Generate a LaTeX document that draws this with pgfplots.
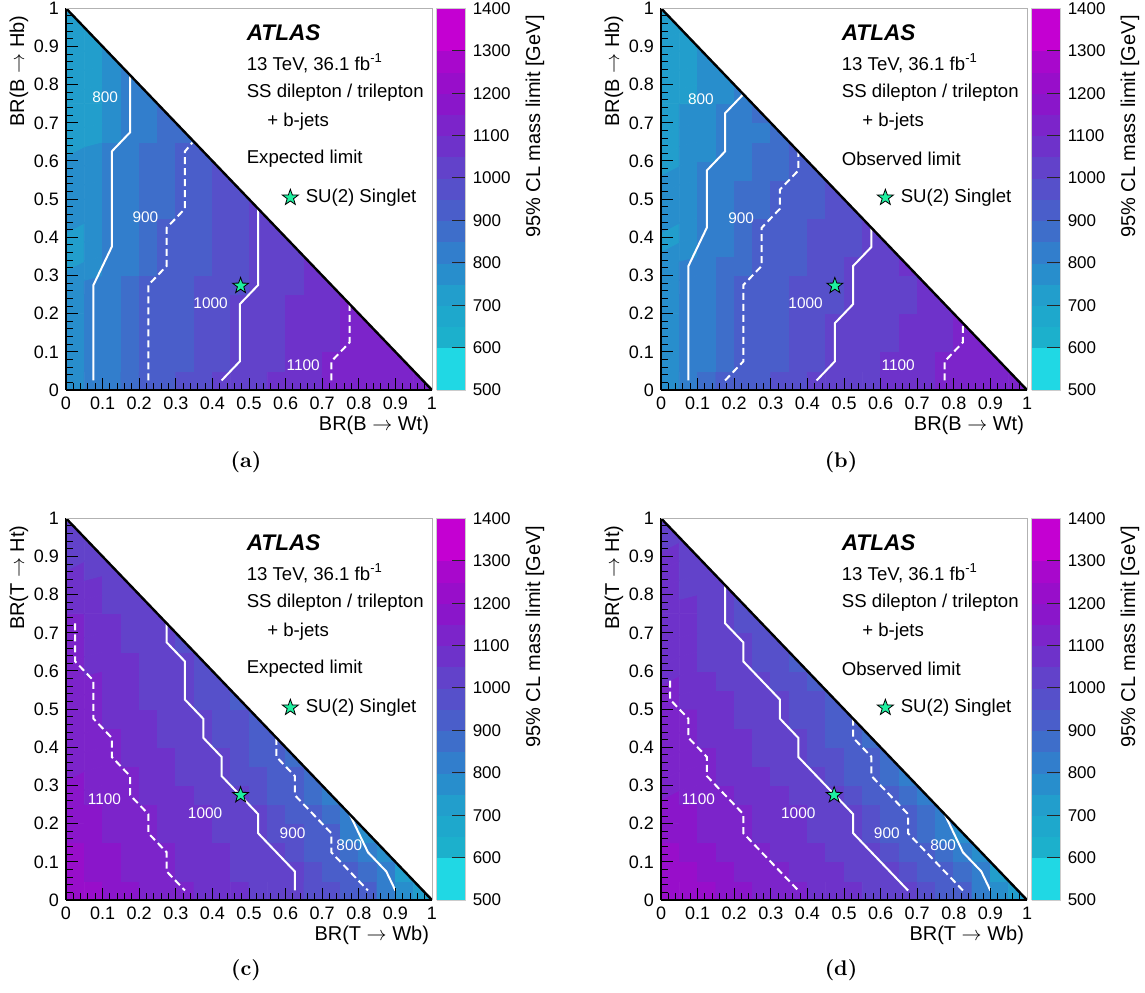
\documentclass[border=0pt]{standalone}
\usepackage{fontspec}
\usepackage{pgfplots}
\usepackage{pgfplotstable}
\pgfplotsset{compat=1.18}
\usetikzlibrary{plotmarks}
\newfontfamily\lib{Liberation Sans}
\definecolor{sgreen}{RGB}{30,240,160}

\pgfdeclareplotmark{fstar}{%
 \pgfpathmoveto{\pgfpointpolar{90}{\pgfplotmarksize}}%
 \pgfpathlineto{\pgfpointpolar{126}{0.4\pgfplotmarksize}}%
 \pgfpathlineto{\pgfpointpolar{162}{\pgfplotmarksize}}%
 \pgfpathlineto{\pgfpointpolar{198}{0.4\pgfplotmarksize}}%
 \pgfpathlineto{\pgfpointpolar{234}{\pgfplotmarksize}}%
 \pgfpathlineto{\pgfpointpolar{270}{0.4\pgfplotmarksize}}%
 \pgfpathlineto{\pgfpointpolar{306}{\pgfplotmarksize}}%
 \pgfpathlineto{\pgfpointpolar{342}{0.4\pgfplotmarksize}}%
 \pgfpathlineto{\pgfpointpolar{18}{\pgfplotmarksize}}%
 \pgfpathlineto{\pgfpointpolar{54}{0.4\pgfplotmarksize}}%
 \pgfpathclose\pgfusepathqfillstroke}

\pgfplotsset{colormap={atl}{
 rgb255(0pt)=(32,216,228)
 rgb255(99pt)=(28,176,204)
 rgb255(149pt)=(30,168,204)
 rgb255(199pt)=(34,158,204)
 rgb255(249pt)=(40,142,204)
 rgb255(299pt)=(50,126,204)
 rgb255(349pt)=(62,110,202)
 rgb255(399pt)=(74,94,202)
 rgb255(449pt)=(86,80,202)
 rgb255(499pt)=(98,66,202)
 rgb255(549pt)=(110,50,202)
 rgb255(599pt)=(124,36,202)
 rgb255(649pt)=(138,22,202)
 rgb255(699pt)=(152,14,202)
 rgb255(749pt)=(168,8,204)
 rgb255(799pt)=(196,0,210)
 rgb255(900pt)=(196,0,210)
}}

% panel (a): expected, B
\pgfplotstableread[row sep=\\]{z\\
767\\ 800\\ 833\\ 867\\ 900\\ 925\\ 950\\ 975\\ 1000\\ 1017\\ 1033\\ 1050\\ 1067\\ 1083\\ 1100\\ 1110\\ 1120\\ 1130\\ 1140\\ 1148\\
767\\ 800\\ 833\\ 867\\ 900\\ 920\\ 940\\ 960\\ 980\\ 1000\\ 1020\\ 1040\\ 1060\\ 1080\\ 1100\\ 1110\\ 1120\\ 1130\\ 1140\\ 1140\\
767\\ 800\\ 833\\ 867\\ 900\\ 920\\ 940\\ 960\\ 980\\ 1000\\ 1017\\ 1033\\ 1050\\ 1067\\ 1083\\ 1100\\ 1110\\ 1120\\ 1120\\ 1120\\
767\\ 800\\ 833\\ 867\\ 900\\ 920\\ 940\\ 960\\ 980\\ 1000\\ 1017\\ 1033\\ 1050\\ 1067\\ 1083\\ 1100\\ 1110\\ 1120\\ 1120\\ 1120\\
767\\ 800\\ 833\\ 867\\ 900\\ 920\\ 940\\ 960\\ 980\\ 1000\\ 1017\\ 1033\\ 1050\\ 1067\\ 1083\\ 1100\\ 1110\\ 1120\\ 1120\\ 1120\\
767\\ 800\\ 833\\ 867\\ 900\\ 917\\ 933\\ 950\\ 967\\ 983\\ 1000\\ 1017\\ 1033\\ 1050\\ 1067\\ 1067\\ 1067\\ 1067\\ 1067\\ 1067\\
757\\ 786\\ 814\\ 843\\ 871\\ 900\\ 920\\ 940\\ 960\\ 980\\ 1000\\ 1017\\ 1033\\ 1050\\ 1050\\ 1050\\ 1050\\ 1050\\ 1050\\ 1050\\
733\\ 767\\ 800\\ 833\\ 867\\ 900\\ 920\\ 940\\ 960\\ 980\\ 1000\\ 1017\\ 1033\\ 1033\\ 1033\\ 1033\\ 1033\\ 1033\\ 1033\\ 1033\\
733\\ 767\\ 800\\ 833\\ 867\\ 900\\ 920\\ 940\\ 960\\ 980\\ 1000\\ 1017\\ 1033\\ 1033\\ 1033\\ 1033\\ 1033\\ 1033\\ 1033\\ 1033\\
750\\ 775\\ 800\\ 825\\ 850\\ 875\\ 900\\ 925\\ 950\\ 975\\ 1000\\ 1000\\ 1000\\ 1000\\ 1000\\ 1000\\ 1000\\ 1000\\ 1000\\ 1000\\
750\\ 775\\ 800\\ 825\\ 850\\ 875\\ 900\\ 925\\ 950\\ 975\\ 975\\ 975\\ 975\\ 975\\ 975\\ 975\\ 975\\ 975\\ 975\\ 975\\
750\\ 775\\ 800\\ 825\\ 850\\ 875\\ 900\\ 925\\ 950\\ 975\\ 975\\ 975\\ 975\\ 975\\ 975\\ 975\\ 975\\ 975\\ 975\\ 975\\
750\\ 775\\ 800\\ 825\\ 850\\ 875\\ 900\\ 925\\ 950\\ 975\\ 975\\ 975\\ 975\\ 975\\ 975\\ 975\\ 975\\ 975\\ 975\\ 975\\
714\\ 743\\ 771\\ 800\\ 829\\ 857\\ 886\\ 886\\ 886\\ 886\\ 886\\ 886\\ 886\\ 886\\ 886\\ 886\\ 886\\ 886\\ 886\\ 886\\
710\\ 740\\ 770\\ 800\\ 830\\ 860\\ 860\\ 860\\ 860\\ 860\\ 860\\ 860\\ 860\\ 860\\ 860\\ 860\\ 860\\ 860\\ 860\\ 860\\
710\\ 740\\ 770\\ 800\\ 830\\ 830\\ 830\\ 830\\ 830\\ 830\\ 830\\ 830\\ 830\\ 830\\ 830\\ 830\\ 830\\ 830\\ 830\\ 830\\
710\\ 740\\ 770\\ 800\\ 800\\ 800\\ 800\\ 800\\ 800\\ 800\\ 800\\ 800\\ 800\\ 800\\ 800\\ 800\\ 800\\ 800\\ 800\\ 800\\
710\\ 740\\ 770\\ 770\\ 770\\ 770\\ 770\\ 770\\ 770\\ 770\\ 770\\ 770\\ 770\\ 770\\ 770\\ 770\\ 770\\ 770\\ 770\\ 770\\
710\\ 740\\ 740\\ 740\\ 740\\ 740\\ 740\\ 740\\ 740\\ 740\\ 740\\ 740\\ 740\\ 740\\ 740\\ 740\\ 740\\ 740\\ 740\\ 740\\
710\\ 710\\ 710\\ 710\\ 710\\ 710\\ 710\\ 710\\ 710\\ 710\\ 710\\ 710\\ 710\\ 710\\ 710\\ 710\\ 710\\ 710\\ 710\\ 710\\
}\tabA

% panel (b): observed, B
\pgfplotstableread[row sep=\\]{z\\
750\\ 800\\ 850\\ 900\\ 920\\ 940\\ 960\\ 980\\ 1000\\ 1014\\ 1029\\ 1043\\ 1057\\ 1071\\ 1086\\ 1100\\ 1110\\ 1120\\ 1130\\ 1140\\
767\\ 800\\ 833\\ 867\\ 900\\ 920\\ 940\\ 960\\ 980\\ 1000\\ 1017\\ 1033\\ 1050\\ 1067\\ 1083\\ 1100\\ 1110\\ 1120\\ 1130\\ 1130\\
767\\ 800\\ 833\\ 867\\ 900\\ 920\\ 940\\ 960\\ 980\\ 1000\\ 1014\\ 1029\\ 1043\\ 1057\\ 1071\\ 1086\\ 1100\\ 1110\\ 1110\\ 1110\\
767\\ 800\\ 833\\ 867\\ 900\\ 920\\ 940\\ 960\\ 980\\ 1000\\ 1014\\ 1029\\ 1043\\ 1057\\ 1071\\ 1086\\ 1100\\ 1110\\ 1110\\ 1110\\
767\\ 800\\ 833\\ 867\\ 900\\ 917\\ 933\\ 950\\ 967\\ 983\\ 1000\\ 1014\\ 1029\\ 1043\\ 1057\\ 1071\\ 1071\\ 1071\\ 1071\\ 1071\\
767\\ 800\\ 833\\ 867\\ 900\\ 917\\ 933\\ 950\\ 967\\ 983\\ 1000\\ 1014\\ 1029\\ 1043\\ 1057\\ 1071\\ 1071\\ 1071\\ 1071\\ 1071\\
775\\ 800\\ 825\\ 850\\ 875\\ 900\\ 920\\ 940\\ 960\\ 980\\ 1000\\ 1017\\ 1033\\ 1050\\ 1050\\ 1050\\ 1050\\ 1050\\ 1050\\ 1050\\
757\\ 786\\ 814\\ 843\\ 871\\ 900\\ 917\\ 933\\ 950\\ 967\\ 983\\ 1000\\ 1017\\ 1017\\ 1017\\ 1017\\ 1017\\ 1017\\ 1017\\ 1017\\
733\\ 767\\ 800\\ 833\\ 867\\ 900\\ 917\\ 933\\ 950\\ 967\\ 983\\ 1000\\ 1000\\ 1000\\ 1000\\ 1000\\ 1000\\ 1000\\ 1000\\ 1000\\
750\\ 775\\ 800\\ 825\\ 850\\ 875\\ 900\\ 918\\ 936\\ 955\\ 973\\ 973\\ 973\\ 973\\ 973\\ 973\\ 973\\ 973\\ 973\\ 973\\
750\\ 775\\ 800\\ 825\\ 850\\ 875\\ 900\\ 918\\ 936\\ 955\\ 955\\ 955\\ 955\\ 955\\ 955\\ 955\\ 955\\ 955\\ 955\\ 955\\
760\\ 780\\ 800\\ 820\\ 840\\ 860\\ 880\\ 900\\ 915\\ 915\\ 915\\ 915\\ 915\\ 915\\ 915\\ 915\\ 915\\ 915\\ 915\\ 915\\
725\\ 750\\ 775\\ 800\\ 825\\ 850\\ 875\\ 900\\ 900\\ 900\\ 900\\ 900\\ 900\\ 900\\ 900\\ 900\\ 900\\ 900\\ 900\\ 900\\
740\\ 760\\ 780\\ 800\\ 820\\ 840\\ 860\\ 860\\ 860\\ 860\\ 860\\ 860\\ 860\\ 860\\ 860\\ 860\\ 860\\ 860\\ 860\\ 860\\
730\\ 755\\ 780\\ 800\\ 825\\ 850\\ 850\\ 850\\ 850\\ 850\\ 850\\ 850\\ 850\\ 850\\ 850\\ 850\\ 850\\ 850\\ 850\\ 850\\
705\\ 730\\ 755\\ 780\\ 800\\ 800\\ 800\\ 800\\ 800\\ 800\\ 800\\ 800\\ 800\\ 800\\ 800\\ 800\\ 800\\ 800\\ 800\\ 800\\
705\\ 730\\ 755\\ 780\\ 780\\ 780\\ 780\\ 780\\ 780\\ 780\\ 780\\ 780\\ 780\\ 780\\ 780\\ 780\\ 780\\ 780\\ 780\\ 780\\
705\\ 730\\ 755\\ 755\\ 755\\ 755\\ 755\\ 755\\ 755\\ 755\\ 755\\ 755\\ 755\\ 755\\ 755\\ 755\\ 755\\ 755\\ 755\\ 755\\
705\\ 730\\ 730\\ 730\\ 730\\ 730\\ 730\\ 730\\ 730\\ 730\\ 730\\ 730\\ 730\\ 730\\ 730\\ 730\\ 730\\ 730\\ 730\\ 730\\
705\\ 705\\ 705\\ 705\\ 705\\ 705\\ 705\\ 705\\ 705\\ 705\\ 705\\ 705\\ 705\\ 705\\ 705\\ 705\\ 705\\ 705\\ 705\\ 705\\
}\tabB

% panel (c): expected, T
\pgfplotstableread[row sep=\\]{z\\
1220\\ 1200\\ 1180\\ 1160\\ 1140\\ 1120\\ 1100\\ 1083\\ 1067\\ 1050\\ 1033\\ 1017\\ 1000\\ 975\\ 950\\ 925\\ 900\\ 830\\ 770\\ 720\\
1200\\ 1180\\ 1160\\ 1140\\ 1120\\ 1100\\ 1086\\ 1071\\ 1057\\ 1043\\ 1029\\ 1014\\ 1000\\ 967\\ 933\\ 900\\ 850\\ 800\\ 740\\ 740\\
1200\\ 1180\\ 1160\\ 1140\\ 1120\\ 1100\\ 1083\\ 1067\\ 1050\\ 1033\\ 1017\\ 1000\\ 967\\ 933\\ 900\\ 850\\ 800\\ 750\\ 750\\ 750\\
1180\\ 1160\\ 1140\\ 1120\\ 1100\\ 1083\\ 1067\\ 1050\\ 1033\\ 1017\\ 1000\\ 975\\ 950\\ 925\\ 900\\ 830\\ 780\\ 780\\ 780\\ 780\\
1180\\ 1160\\ 1140\\ 1120\\ 1100\\ 1083\\ 1067\\ 1050\\ 1033\\ 1017\\ 1000\\ 967\\ 933\\ 900\\ 850\\ 800\\ 800\\ 800\\ 800\\ 800\\
1160\\ 1140\\ 1120\\ 1100\\ 1083\\ 1067\\ 1050\\ 1033\\ 1017\\ 1000\\ 967\\ 933\\ 900\\ 860\\ 820\\ 820\\ 820\\ 820\\ 820\\ 820\\
1160\\ 1140\\ 1120\\ 1100\\ 1080\\ 1060\\ 1040\\ 1020\\ 1000\\ 975\\ 950\\ 925\\ 900\\ 870\\ 870\\ 870\\ 870\\ 870\\ 870\\ 870\\
1140\\ 1120\\ 1100\\ 1083\\ 1067\\ 1050\\ 1033\\ 1017\\ 1000\\ 967\\ 933\\ 900\\ 870\\ 870\\ 870\\ 870\\ 870\\ 870\\ 870\\ 870\\
1140\\ 1120\\ 1100\\ 1080\\ 1060\\ 1040\\ 1020\\ 1000\\ 975\\ 950\\ 925\\ 900\\ 900\\ 900\\ 900\\ 900\\ 900\\ 900\\ 900\\ 900\\
1120\\ 1100\\ 1083\\ 1067\\ 1050\\ 1033\\ 1017\\ 1000\\ 975\\ 950\\ 925\\ 925\\ 925\\ 925\\ 925\\ 925\\ 925\\ 925\\ 925\\ 925\\
1120\\ 1100\\ 1080\\ 1060\\ 1040\\ 1020\\ 1000\\ 975\\ 950\\ 925\\ 925\\ 925\\ 925\\ 925\\ 925\\ 925\\ 925\\ 925\\ 925\\ 925\\
1120\\ 1100\\ 1080\\ 1060\\ 1040\\ 1020\\ 1000\\ 975\\ 950\\ 950\\ 950\\ 950\\ 950\\ 950\\ 950\\ 950\\ 950\\ 950\\ 950\\ 950\\
1100\\ 1083\\ 1067\\ 1050\\ 1033\\ 1017\\ 1000\\ 980\\ 980\\ 980\\ 980\\ 980\\ 980\\ 980\\ 980\\ 980\\ 980\\ 980\\ 980\\ 980\\
1100\\ 1080\\ 1060\\ 1040\\ 1020\\ 1000\\ 980\\ 980\\ 980\\ 980\\ 980\\ 980\\ 980\\ 980\\ 980\\ 980\\ 980\\ 980\\ 980\\ 980\\
1100\\ 1080\\ 1060\\ 1040\\ 1020\\ 1000\\ 1000\\ 1000\\ 1000\\ 1000\\ 1000\\ 1000\\ 1000\\ 1000\\ 1000\\ 1000\\ 1000\\ 1000\\ 1000\\ 1000\\
1080\\ 1060\\ 1040\\ 1020\\ 1000\\ 1000\\ 1000\\ 1000\\ 1000\\ 1000\\ 1000\\ 1000\\ 1000\\ 1000\\ 1000\\ 1000\\ 1000\\ 1000\\ 1000\\ 1000\\
1070\\ 1050\\ 1030\\ 1010\\ 1010\\ 1010\\ 1010\\ 1010\\ 1010\\ 1010\\ 1010\\ 1010\\ 1010\\ 1010\\ 1010\\ 1010\\ 1010\\ 1010\\ 1010\\ 1010\\
1060\\ 1040\\ 1020\\ 1020\\ 1020\\ 1020\\ 1020\\ 1020\\ 1020\\ 1020\\ 1020\\ 1020\\ 1020\\ 1020\\ 1020\\ 1020\\ 1020\\ 1020\\ 1020\\ 1020\\
1040\\ 1020\\ 1020\\ 1020\\ 1020\\ 1020\\ 1020\\ 1020\\ 1020\\ 1020\\ 1020\\ 1020\\ 1020\\ 1020\\ 1020\\ 1020\\ 1020\\ 1020\\ 1020\\ 1020\\
1030\\ 1030\\ 1030\\ 1030\\ 1030\\ 1030\\ 1030\\ 1030\\ 1030\\ 1030\\ 1030\\ 1030\\ 1030\\ 1030\\ 1030\\ 1030\\ 1030\\ 1030\\ 1030\\ 1030\\
}\tabC

% panel (d): observed, T
\pgfplotstableread[row sep=\\]{z\\
1240\\ 1220\\ 1200\\ 1180\\ 1160\\ 1140\\ 1120\\ 1100\\ 1083\\ 1067\\ 1050\\ 1033\\ 1017\\ 1000\\ 967\\ 933\\ 900\\ 830\\ 770\\ 720\\
1220\\ 1200\\ 1180\\ 1160\\ 1140\\ 1120\\ 1100\\ 1083\\ 1067\\ 1050\\ 1033\\ 1017\\ 1000\\ 967\\ 933\\ 900\\ 850\\ 800\\ 740\\ 740\\
1200\\ 1180\\ 1160\\ 1140\\ 1120\\ 1100\\ 1083\\ 1067\\ 1050\\ 1033\\ 1017\\ 1000\\ 967\\ 933\\ 900\\ 850\\ 800\\ 750\\ 750\\ 750\\
1180\\ 1160\\ 1140\\ 1120\\ 1100\\ 1083\\ 1067\\ 1050\\ 1033\\ 1017\\ 1000\\ 967\\ 933\\ 900\\ 867\\ 830\\ 780\\ 780\\ 780\\ 780\\
1180\\ 1160\\ 1140\\ 1120\\ 1100\\ 1083\\ 1067\\ 1050\\ 1033\\ 1017\\ 1000\\ 967\\ 933\\ 900\\ 850\\ 800\\ 800\\ 800\\ 800\\ 800\\
1160\\ 1140\\ 1120\\ 1100\\ 1083\\ 1067\\ 1050\\ 1033\\ 1017\\ 1000\\ 967\\ 933\\ 900\\ 860\\ 820\\ 820\\ 820\\ 820\\ 820\\ 820\\
1140\\ 1120\\ 1100\\ 1083\\ 1067\\ 1050\\ 1033\\ 1017\\ 1000\\ 967\\ 933\\ 900\\ 860\\ 820\\ 820\\ 820\\ 820\\ 820\\ 820\\ 820\\
1140\\ 1120\\ 1100\\ 1080\\ 1060\\ 1040\\ 1020\\ 1000\\ 975\\ 950\\ 925\\ 900\\ 870\\ 870\\ 870\\ 870\\ 870\\ 870\\ 870\\ 870\\
1120\\ 1100\\ 1083\\ 1067\\ 1050\\ 1033\\ 1017\\ 1000\\ 967\\ 933\\ 900\\ 870\\ 870\\ 870\\ 870\\ 870\\ 870\\ 870\\ 870\\ 870\\
1120\\ 1100\\ 1080\\ 1060\\ 1040\\ 1020\\ 1000\\ 975\\ 950\\ 925\\ 900\\ 900\\ 900\\ 900\\ 900\\ 900\\ 900\\ 900\\ 900\\ 900\\
1100\\ 1083\\ 1067\\ 1050\\ 1033\\ 1017\\ 1000\\ 975\\ 950\\ 925\\ 925\\ 925\\ 925\\ 925\\ 925\\ 925\\ 925\\ 925\\ 925\\ 925\\
1100\\ 1080\\ 1060\\ 1040\\ 1020\\ 1000\\ 975\\ 950\\ 925\\ 925\\ 925\\ 925\\ 925\\ 925\\ 925\\ 925\\ 925\\ 925\\ 925\\ 925\\
1085\\ 1065\\ 1045\\ 1020\\ 1000\\ 975\\ 950\\ 930\\ 930\\ 930\\ 930\\ 930\\ 930\\ 930\\ 930\\ 930\\ 930\\ 930\\ 930\\ 930\\
1080\\ 1060\\ 1040\\ 1020\\ 1000\\ 975\\ 950\\ 950\\ 950\\ 950\\ 950\\ 950\\ 950\\ 950\\ 950\\ 950\\ 950\\ 950\\ 950\\ 950\\
1075\\ 1050\\ 1025\\ 1000\\ 975\\ 950\\ 950\\ 950\\ 950\\ 950\\ 950\\ 950\\ 950\\ 950\\ 950\\ 950\\ 950\\ 950\\ 950\\ 950\\
1075\\ 1050\\ 1025\\ 1000\\ 975\\ 975\\ 975\\ 975\\ 975\\ 975\\ 975\\ 975\\ 975\\ 975\\ 975\\ 975\\ 975\\ 975\\ 975\\ 975\\
1070\\ 1045\\ 1020\\ 1000\\ 1000\\ 1000\\ 1000\\ 1000\\ 1000\\ 1000\\ 1000\\ 1000\\ 1000\\ 1000\\ 1000\\ 1000\\ 1000\\ 1000\\ 1000\\ 1000\\
1060\\ 1040\\ 1020\\ 1020\\ 1020\\ 1020\\ 1020\\ 1020\\ 1020\\ 1020\\ 1020\\ 1020\\ 1020\\ 1020\\ 1020\\ 1020\\ 1020\\ 1020\\ 1020\\ 1020\\
1050\\ 1030\\ 1030\\ 1030\\ 1030\\ 1030\\ 1030\\ 1030\\ 1030\\ 1030\\ 1030\\ 1030\\ 1030\\ 1030\\ 1030\\ 1030\\ 1030\\ 1030\\ 1030\\ 1030\\
1040\\ 1040\\ 1040\\ 1040\\ 1040\\ 1040\\ 1040\\ 1040\\ 1040\\ 1040\\ 1040\\ 1040\\ 1040\\ 1040\\ 1040\\ 1040\\ 1040\\ 1040\\ 1040\\ 1040\\
}\tabD

\tikzset{
 clab/.style={text=white, font=\lib\fontsize{7.7}{9}\selectfont},
 txt/.style={anchor=west, inner sep=0pt, font=\lib\fontsize{9.3}{11}\selectfont},
}
\pgfplotsset{
 panel/.style={
  scale only axis, width=183pt, height=190.85pt,
  xmin=0, xmax=1, ymin=0, ymax=1, enlargelimits=false,
  axis on top,
  axis x line*=bottom, axis y line*=left,
  axis line style={-, black, line width=0.6pt},
  tick align=inside,
  xtick={0,0.1,0.2,0.3,0.4,0.5,0.6,0.7,0.8,0.9,1},
  ytick={0,0.1,0.2,0.3,0.4,0.5,0.6,0.7,0.8,0.9,1},
  minor tick num=4,
  major tick length=6pt, minor tick length=3.5pt,
  tick style={black, line width=0.5pt},
  /pgf/number format/assume math mode=true,
  /pgf/number format/1000 sep={},
  tick label style={font=\lib\fontsize{9}{10}\selectfont},
  label style={font=\lib\fontsize{10}{12}\selectfont},
  xlabel style={at={([xshift=2pt,yshift=-17.5pt]rel axis cs:1,0)}, anchor=east},
  ylabel style={at={([xshift=-23.5pt]rel axis cs:0,1)}, anchor=east},
  colormap name=atl, colormap access=piecewise constant,
  point meta min=500, point meta max=1400,
  extra description/.code={\draw[gray!60, line width=0.5pt] (0,1)--(1,1)--(1,0);},
  colorbar,
  colorbar style={
   at={(parent axis.south east)}, anchor=south west, xshift=-6.18pt,
   scale only axis, width=14.5pt, height=190.85pt,
   ytick={500,600,700,800,900,1000,1100,1200,1300,1400},
   ytick pos=right, yticklabel pos=right,
   tick align=inside, major tick length=7pt,
   tick style={black!85, line width=0.5pt},
   axis line style={gray!40, line width=0.3pt},
   /pgf/number format/assume math mode=true,
   /pgf/number format/1000 sep={},
   yticklabel style={font=\lib\fontsize{8.5}{9}\selectfont},
   ylabel={95\% CL mass limit [GeV]},
   every axis y label/.style={at={([xshift=34.6pt]rel axis cs:1,1)}, rotate=90, anchor=east, font=\lib\fontsize{10}{12}\selectfont},
  },
 },
 mat/.style={matrix plot*, mesh/cols=20, point meta=explicit},
 cont/.style={white, line width=1pt},
 dcont/.style={white, line width=1pt, dash pattern=on 3.5pt off 2pt},
 starm/.style={only marks, mark=fstar, mark size=4.2pt, mark options={fill=sgreen, draw=black, line width=0.4pt}},
}
\newcommand\gridx{0.025+0.05*mod(\coordindex,20)}
\newcommand\gridy{0.025+0.05*floor(\coordindex/20)}
\newcommand\annot[1]{%
 \node[anchor=west, inner sep=0pt, font=\lib\bfseries\itshape\fontsize{11.3}{13}\selectfont] at (axis cs:0.493,0.935) {ATLAS};
 \node[txt] at (axis cs:0.493,0.856) {13 TeV, 36.1 fb\textsuperscript{-1}};
 \node[txt] at (axis cs:0.493,0.78) {SS dilepton / trilepton};
 \node[txt] at (axis cs:0.549,0.703) {+ b-jets};
 \node[txt] at (axis cs:0.493,0.605) {#1};
 \node[txt] at (axis cs:0.654,0.504) {SU(2) Singlet};
}

\begin{document}
\begin{tikzpicture}
\useasboundingbox (0,0) rectangle (572.5pt,-496pt);

% (a)
\begin{axis}[panel, at={(33pt,-195pt)}, anchor=south west,
  xlabel={BR(B $\rightarrow$ Wt)}, ylabel={BR(B $\rightarrow$ Hb)}]
\addplot[mat] table[x index=0, y index=0, x expr=\gridx, y expr=\gridy, meta=z] {\tabA};
\addplot[fill=white, draw=none] coordinates {(0,1) (1,1) (1,0) (0,1)};
\addplot[cont] coordinates {(0.075,0.025) (0.075,0.275) (0.125,0.375) (0.125,0.625) (0.175,0.675) (0.175,0.825)};
\addplot[dcont] coordinates {(0.225,0.025) (0.225,0.275) (0.275,0.325) (0.275,0.425) (0.325,0.475) (0.325,0.625) (0.345,0.648)};
\addplot[cont] coordinates {(0.425,0.025) (0.475,0.075) (0.475,0.225) (0.525,0.275) (0.525,0.475)};
\addplot[dcont] coordinates {(0.725,0.025) (0.725,0.075) (0.775,0.125) (0.775,0.225)};
\addplot[black, line width=1.2pt] coordinates {(0,1) (1,0)};
\addplot[starm] coordinates {(0.477,0.273) (0.613,0.504)};
\node[clab] at (axis cs:0.107,0.766) {800};
\node[clab] at (axis cs:0.217,0.452) {900};
\node[clab] at (axis cs:0.395,0.227) {1000};
\node[clab] at (axis cs:0.648,0.064) {1100};
\annot{Expected limit}
\end{axis}

% (b)
\begin{axis}[panel, at={(330.5pt,-195pt)}, anchor=south west,
  xlabel={BR(B $\rightarrow$ Wt)}, ylabel={BR(B $\rightarrow$ Hb)}]
\addplot[mat] table[x index=0, y index=0, x expr=\gridx, y expr=\gridy, meta=z] {\tabB};
\addplot[fill=white, draw=none] coordinates {(0,1) (1,1) (1,0) (0,1)};
\addplot[cont] coordinates {(0.075,0.025) (0.075,0.325) (0.125,0.425) (0.125,0.575) (0.175,0.625) (0.175,0.725) (0.225,0.775)};
\addplot[dcont] coordinates {(0.175,0.025) (0.225,0.075) (0.225,0.275) (0.275,0.325) (0.275,0.425) (0.325,0.475) (0.325,0.525) (0.375,0.575) (0.375,0.625)};
\addplot[cont] coordinates {(0.425,0.025) (0.475,0.075) (0.475,0.175) (0.525,0.225) (0.525,0.325) (0.575,0.375) (0.575,0.425)};
\addplot[dcont] coordinates {(0.775,0.025) (0.775,0.075) (0.825,0.125) (0.825,0.175)};
\addplot[black, line width=1.2pt] coordinates {(0,1) (1,0)};
\addplot[starm] coordinates {(0.475,0.273) (0.613,0.504)};
\node[clab] at (axis cs:0.109,0.761) {800};
\node[clab] at (axis cs:0.219,0.451) {900};
\node[clab] at (axis cs:0.395,0.227) {1000};
\node[clab] at (axis cs:0.648,0.064) {1100};
\annot{Observed limit}
\end{axis}

% (c)
\begin{axis}[panel, at={(33pt,-450pt)}, anchor=south west,
  xlabel={BR(T $\rightarrow$ Wb)}, ylabel={BR(T $\rightarrow$ Ht)}]
\addplot[mat] table[x index=0, y index=0, x expr=\gridx, y expr=\gridy, meta=z] {\tabC};
\addplot[fill=white, draw=none] coordinates {(0,1) (1,1) (1,0) (0,1)};
\addplot[dcont] coordinates {(0.025,0.725) (0.025,0.625) (0.075,0.575) (0.075,0.475) (0.125,0.425) (0.125,0.375) (0.175,0.325) (0.175,0.275) (0.225,0.225) (0.225,0.175) (0.275,0.125) (0.275,0.075) (0.325,0.025)};
\addplot[cont] coordinates {(0.275,0.725) (0.275,0.675) (0.325,0.625) (0.325,0.525) (0.375,0.475) (0.375,0.425) (0.425,0.375) (0.425,0.325) (0.525,0.225) (0.525,0.175) (0.625,0.075) (0.625,0.025)};
\addplot[dcont] coordinates {(0.575,0.425) (0.575,0.375) (0.625,0.325) (0.625,0.275) (0.725,0.175) (0.725,0.125) (0.825,0.025)};
\addplot[cont] coordinates {(0.775,0.225) (0.825,0.125) (0.875,0.075) (0.9,0.025)};
\addplot[black, line width=1.2pt] coordinates {(0,1) (1,0)};
\addplot[starm] coordinates {(0.477,0.275) (0.613,0.504)};
\node[clab] at (axis cs:0.105,0.264) {1100};
\node[clab] at (axis cs:0.380,0.227) {1000};
\node[clab] at (axis cs:0.619,0.176) {900};
\node[clab] at (axis cs:0.774,0.144) {800};
\annot{Expected limit}
\end{axis}

% (d)
\begin{axis}[panel, at={(330.5pt,-450pt)}, anchor=south west,
  xlabel={BR(T $\rightarrow$ Wb)}, ylabel={BR(T $\rightarrow$ Ht)}]
\addplot[mat] table[x index=0, y index=0, x expr=\gridx, y expr=\gridy, meta=z] {\tabD};
\addplot[fill=white, draw=none] coordinates {(0,1) (1,1) (1,0) (0,1)};
\addplot[dcont] coordinates {(0.025,0.575) (0.025,0.525) (0.075,0.475) (0.075,0.425) (0.125,0.375) (0.125,0.325) (0.225,0.225) (0.225,0.175) (0.375,0.025)};
\addplot[cont] coordinates {(0.175,0.825) (0.175,0.725) (0.225,0.675) (0.225,0.625) (0.325,0.525) (0.325,0.475) (0.375,0.425) (0.375,0.375) (0.525,0.225) (0.525,0.175) (0.675,0.025)};
\addplot[dcont] coordinates {(0.525,0.475) (0.525,0.425) (0.575,0.375) (0.575,0.325) (0.675,0.225) (0.675,0.175) (0.825,0.025)};
\addplot[cont] coordinates {(0.775,0.225) (0.825,0.125) (0.875,0.075) (0.9,0.025)};
\addplot[black, line width=1.2pt] coordinates {(0,1) (1,0)};
\addplot[starm] coordinates {(0.473,0.275) (0.613,0.504)};
\node[clab] at (axis cs:0.102,0.264) {1100};
\node[clab] at (axis cs:0.375,0.227) {1000};
\node[clab] at (axis cs:0.617,0.176) {900};
\node[clab] at (axis cs:0.771,0.144) {800};
\annot{Observed limit}
\end{axis}

\node[font=\bfseries\fontsize{10.6}{12}\selectfont] at (123pt,-231pt) {(a)};
\node[font=\bfseries\fontsize{10.6}{12}\selectfont] at (420.5pt,-231pt) {(b)};
\node[font=\bfseries\fontsize{10.6}{12}\selectfont] at (123pt,-485pt) {(c)};
\node[font=\bfseries\fontsize{10.6}{12}\selectfont] at (420.5pt,-485pt) {(d)};
\end{tikzpicture}
\end{document}
